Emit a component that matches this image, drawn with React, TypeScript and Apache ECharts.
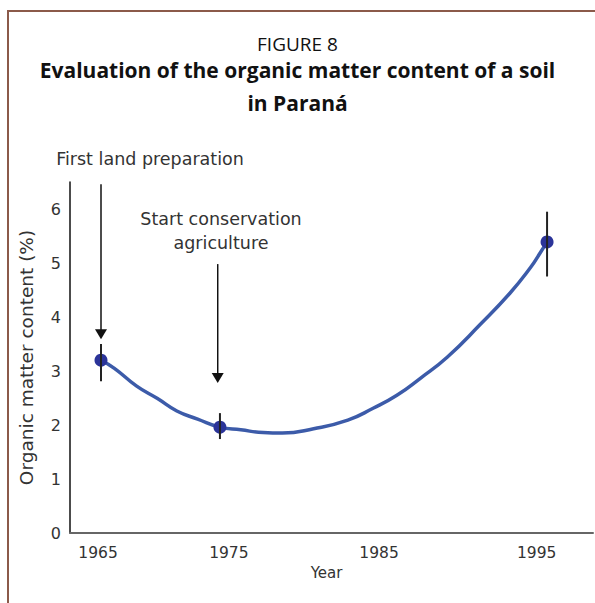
import React, { useEffect, useRef } from "react";
import * as echarts from "echarts";

// Traced curve of organic matter content (%)
const curveYears = [1965, 1965.9, 1967.4, 1968.8, 1970.1, 1971.5, 1973, 1974.4, 1975.9, 1977.2, 1979.3, 1981.6, 1983.3, 1984.9, 1986.5, 1988.3, 1990.5, 1992.5, 1993.9, 1994.5, 1995];
const curveValues = [3.2, 3.05, 2.72, 2.49, 2.26, 2.11, 1.96, 1.91, 1.86, 1.85, 1.93, 2.09, 2.31, 2.55, 2.87, 3.26, 3.86, 4.44, 4.92, 5.17, 5.39];

// Measured points with error bars
const pointYears = [1965, 1973, 1995];
const pointValues = [3.2, 1.96, 5.39];
const errLow = [2.81, 1.74, 4.75];
const errHigh = [3.5, 2.22, 5.95];

// Annotation arrows
const arrowYears = [1965, 1972.85];
const arrowFrom = [6.46, 4.98];
const arrowTo = [3.59, 2.78];

// X tick labels and the axis values where they sit in the original figure
const tickLabels = ["1965", "1975", "1985", "1995"];
const tickLabelAt = [1964.8, 1973.6, 1983.7, 1994.3];

const yTicks = [0, 1, 2, 3, 4, 5, 6];

const LABEL_FONT = "DejaVu Sans";
const TITLE_FONT = "Open Sans";

export default function App() {
  const ref = useRef<HTMLDivElement>(null);
  useEffect(() => {
    if (!ref.current) return;
    const chart = echarts.init(ref.current, null, { renderer: "svg" });
    const option: any = {
      animation: false,
      backgroundColor: "#ffffff",
      title: [
        {
          text: "FIGURE 8",
          left: "center",
          top: 34,
          padding: 0,
          textStyle: { fontFamily: TITLE_FONT, fontSize: 19, fontWeight: "normal", color: "#111" },
        },
        {
          text: "Evaluation of the organic matter content of a soil\nin Paraná",
          left: "center",
          top: 53,
          padding: 0,
          textStyle: { fontFamily: TITLE_FONT, fontSize: 21, fontWeight: "bold", color: "#111", lineHeight: 33 },
        },
      ],
      grid: { left: 70, right: 2, top: 182, bottom: 70, containLabel: false },
      xAxis: {
        type: "value",
        min: 1962.915,
        max: 1998.09,
        name: "Year",
        nameLocation: "middle",
        nameGap: 32,
        nameTextStyle: { fontFamily: LABEL_FONT, fontSize: 15, color: "#333", padding: [0, 10, 0, 0] },
        axisLine: { show: true, onZero: false, lineStyle: { color: "#666", width: 2 } },
        axisTick: { show: false },
        splitLine: { show: false },
        axisLabel: {
          customValues: tickLabelAt,
          margin: 12,
          fontFamily: LABEL_FONT,
          fontSize: 15.5,
          color: "#333",
          formatter: (v: number) => {
            let best = 0;
            for (let i = 1; i < tickLabelAt.length; i++) {
              if (Math.abs(tickLabelAt[i] - v) < Math.abs(tickLabelAt[best] - v)) best = i;
            }
            return tickLabels[best];
          },
        },
      },
      yAxis: {
        type: "value",
        min: 0,
        max: 6.5,
        interval: 1,
        name: "Organic matter content (%)",
        nameLocation: "middle",
        nameGap: 34,
        nameTextStyle: { fontFamily: LABEL_FONT, fontSize: 18.5, color: "#333" },
        axisLine: { show: true, lineStyle: { color: "#111", width: 1.5 } },
        axisTick: { show: false },
        splitLine: { show: false },
        axisLabel: {
          customValues: yTicks,
          margin: 9,
          fontFamily: LABEL_FONT,
          fontSize: 16,
          color: "#333",
        },
      },
      graphic: [
        {
          type: "polyline",
          shape: { points: [[8, 603], [8, 11], [595, 11]] },
          style: { stroke: "#8b5a4a", lineWidth: 2, fill: "none" },
          silent: true,
        },
        {
          type: "text",
          x: 150,
          y: 159,
          style: {
            text: "First land preparation",
            fontFamily: LABEL_FONT,
            fontSize: 17.5,
            fill: "#333",
            align: "center",
            verticalAlign: "middle",
          },
        },
        {
          type: "text",
          x: 221,
          y: 231,
          style: {
            text: "Start conservation\nagriculture",
            fontFamily: LABEL_FONT,
            fontSize: 17.5,
            lineHeight: 24,
            fill: "#333",
            align: "center",
            verticalAlign: "middle",
          },
        },
      ],
      series: [
        {
          type: "line",
          data: curveYears.map((y, i) => [y, curveValues[i]]),
          smooth: 0.5,
          symbol: "none",
          lineStyle: { color: "#3c5ba9", width: 3.5 },
          z: 2,
        },
        {
          type: "scatter",
          data: pointYears.map((y, i) => [y, pointValues[i]]),
          symbol: "circle",
          symbolSize: 13,
          itemStyle: { color: "#2b3499", opacity: 1 },
          z: 3,
        },
        {
          type: "custom",
          data: pointYears.map((y, i) => [y, errLow[i], errHigh[i]]),
          encode: { x: 0, y: [1, 2] },
          renderItem: (params: any, api: any) => {
            const x = api.value(0);
            const lo = api.coord([x, api.value(1)]);
            const hi = api.coord([x, api.value(2)]);
            return {
              type: "line",
              shape: { x1: lo[0], y1: lo[1], x2: hi[0], y2: hi[1] },
              style: { stroke: "#222", lineWidth: 2 },
            };
          },
          z: 4,
        },
        {
          type: "custom",
          data: arrowYears.map((y, i) => [y, arrowFrom[i], arrowTo[i]]),
          encode: { x: 0, y: [1, 2] },
          renderItem: (params: any, api: any) => {
            const x = api.value(0);
            const top = api.coord([x, api.value(1)]);
            const tip = api.coord([x, api.value(2)]);
            const head = 10;
            const half = 6;
            return {
              type: "group",
              children: [
                {
                  type: "line",
                  shape: { x1: top[0], y1: top[1], x2: tip[0], y2: tip[1] - head + 1 },
                  style: { stroke: "#111", lineWidth: 1.5 },
                },
                {
                  type: "polygon",
                  shape: {
                    points: [
                      [tip[0] - half, tip[1] - head],
                      [tip[0] + half, tip[1] - head],
                      [tip[0], tip[1]],
                    ],
                  },
                  style: { fill: "#111" },
                },
              ],
            };
          },
          z: 4,
        },
      ],
    };
    chart.setOption(option);
    return () => chart.dispose();
  }, []);
  return (
    <div
      ref={ref}
      style={{ position: "absolute", left: 0, top: 0, width: 595, height: 603 }}
    />
  );
}
